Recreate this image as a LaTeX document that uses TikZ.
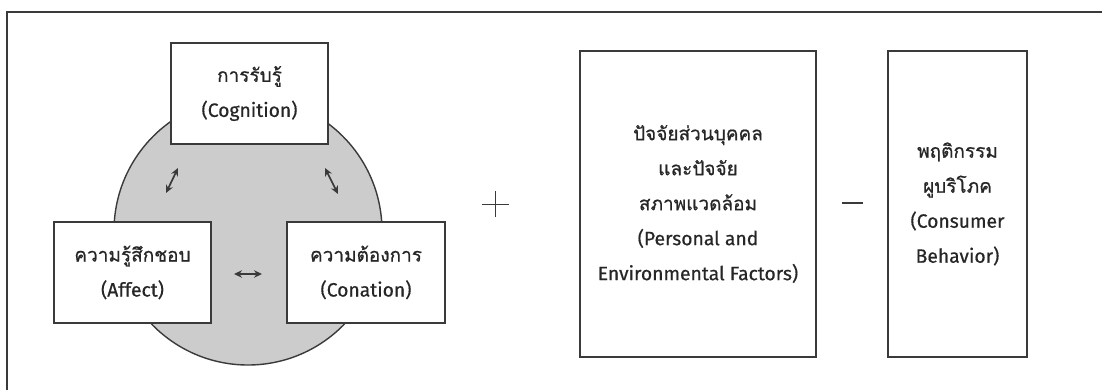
\documentclass[tikz,border=0pt]{standalone}
\usepackage{fontspec}
\newfontfamily\thaifont[Script=Thai, AutoFakeBold=0.7]{Loma}
\newfontfamily\latfont[AutoFakeBold=0.5]{Fira Sans}
\newcommand\lat[1]{{\latfont\bfseries\fontsize{19.3}{35}\selectfont #1}}
\usetikzlibrary{arrows.meta}
\definecolor{edge}{HTML}{3A3A3A}
\definecolor{disk}{HTML}{CCCCCC}
\tikzset{
  box/.style={draw=edge, line width=1.6pt, fill=white, align=center, inner sep=0pt,
    font=\thaifont\bfseries\fontsize{19}{35}\selectfont, text=black!85},
  twoway/.style={{Stealth[length=8pt,width=7.5pt]}-{Stealth[length=8pt,width=7.5pt]}, line width=1.7pt, draw=edge},
}
\begin{document}
\begin{tikzpicture}[x=1pt,y=-1pt]
\useasboundingbox (0,0) rectangle (1102,390);
% frame (open at right and bottom)
\draw[edge, line width=2pt] (1102,12) -- (7,12) -- (7,390);
% disk
\fill[disk, draw=edge, line width=1.4pt] (248,231) circle (134);
% boxes
\node[box, minimum width=157pt, minimum height=101pt] (cog) at (249.5,93.5) {การรับรู้\\\lat{(Cognition)}};
\node[box, minimum width=157pt, minimum height=101pt] (aff) at (132.5,272.5) {ความรู้สึกชอบ\\\lat{(Affect)}};
\node[box, minimum width=158pt, minimum height=101pt] (con) at (366,272.5) {ความต้องการ\\\lat{(Conation)}};
\node[box, minimum width=236pt, minimum height=306pt] (fac) at (698,204) {ปัจจัยส่วนบุคคล\\และปัจจัย\\สภาพแวดล้อม\\\lat{(Personal and}\\\lat{Environmental Factors)}};
\node[box, minimum width=139pt, minimum height=306pt] (beh) at (957.5,204) {พฤติกรรม\\ผูบริโภค\\\lat{(Consumer}\\\lat{Behavior)}};
% two-way arrows
\coordinate (a1) at (166,193); \coordinate (a2) at (178,168);
\coordinate (b1) at (325,168); \coordinate (b2) at (338,194);
\coordinate (c1) at (234,274); \coordinate (c2) at (262,274);
\draw[twoway] (a1) -- (a2);
\draw[twoway] (b1) -- (b2);
\draw[twoway] (c1) -- (c2);
% plus
\coordinate (plus) at (495,204);
\draw[edge, line width=1pt] ([xshift=-13.5pt]plus) -- ([xshift=13.5pt]plus);
\draw[edge, line width=1pt] ([yshift=-13pt]plus) -- ([yshift=13pt]plus);
% minus
\coordinate (minus) at (852.5,203);
\draw[edge, line width=2pt] ([xshift=-10.5pt]minus) -- ([xshift=10.5pt]minus);
\end{tikzpicture}
\end{document}
